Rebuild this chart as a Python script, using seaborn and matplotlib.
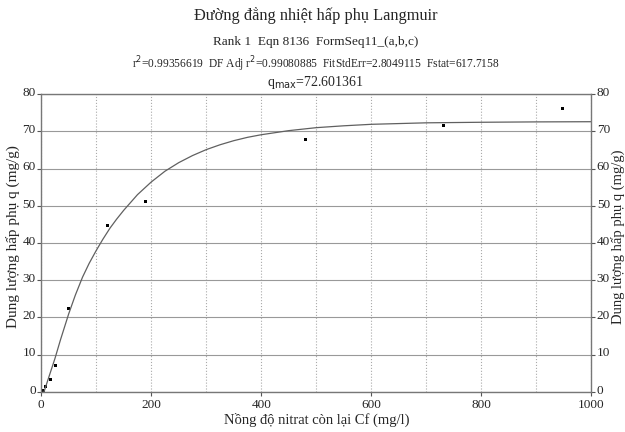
import pandas as pd
import matplotlib.pyplot as plt
import matplotlib.transforms as mtransforms
import seaborn as sns

# measured points (Cf, q)
cf_points = [2, 4.4, 8.5, 17.6, 26.7, 49, 121, 189, 480, 731, 948]
q_points = [0.3, 0.1, 1.4, 3.4, 7.1, 22.5, 44.8, 51.1, 67.8, 71.7, 76.2]

# fitted Langmuir curve
cf_curve = [5, 15, 25, 35, 50, 62, 75, 87, 100, 112, 125, 137, 150, 175, 200,
            225, 250, 275, 300, 325, 350, 375, 400, 450, 500, 550, 600, 700,
            800, 900, 1000]
q_curve = [0, 4.5, 9, 14, 21, 26, 30.8, 34.5, 38, 41, 44, 46.4, 48.8, 53,
           56.4, 59.3, 61.6, 63.5, 65.1, 66.4, 67.5, 68.4, 69.1, 70.2, 71,
           71.5, 71.9, 72.3, 72.45, 72.55, 72.6]

x_ticks = [0, 200, 400, 600, 800, 1000]
y_ticks = [0, 10, 20, 30, 40, 50, 60, 70, 80]

sns.set_style("white")
plt.rcParams['font.family'] = ['Liberation Serif', 'DejaVu Serif']

df_pts = pd.DataFrame({'Cf': cf_points, 'q': q_points})
df_fit = pd.DataFrame({'Cf': cf_curve, 'q': q_curve})

fig = plt.figure(figsize=(6.25, 4.32), dpi=100)
ax = fig.add_axes([0.066, 0.093, 0.88, 0.689])

sns.lineplot(data=df_fit, x='Cf', y='q', ax=ax, color='#606060', lw=0.9)
sns.scatterplot(data=df_pts, x='Cf', y='q', ax=ax, color='black', marker='s',
                s=5, edgecolor='none')

ax.set_xlim(0, 1000)
ax.set_ylim(0, 80)
ax.set_xticks(x_ticks)
ax.set_xticks(range(0, 1001, 100), minor=True)
ax.set_yticks(y_ticks)
ax.grid(axis='x', which='both', color='#aaaaaa', ls=':', lw=0.8)
ax.grid(axis='y', which='major', color='#999999', ls='-', lw=0.8)
ax.tick_params(axis='both', labelsize=9.5, length=3, color='#555555', pad=1)
ax.tick_params(axis='x', which='major', pad=2.5)
ax.tick_params(axis='x', which='minor', length=0)
ax.tick_params(axis='y', left=True, right=True, labelright=True)
ax.tick_params(axis='x', bottom=True)
for s in ax.spines.values():
    s.set_color('#777777')
    s.set_linewidth(1)

# y tick labels sit a little above their gridline, as in the original
lift = mtransforms.ScaledTranslation(0, 2 / 72, fig.dpi_scale_trans)
for t in ax.yaxis.get_major_ticks():
    t.label1.set_transform(t.label1.get_transform() + lift)
    t.label2.set_transform(t.label2.get_transform() + lift)

ax.set_xlabel('Nồng độ nitrat còn lại Cf (mg/l)', fontsize=10.5, labelpad=1)
ax.set_ylabel('')
y_label = 'Dung lượng hấp phụ q (mg/g)'
fig.text(0.021, 0.452, y_label, rotation=90, fontsize=11,
         ha='center', va='center')
fig.text(0.988, 0.452, y_label, rotation=90, fontsize=10.5,
         ha='center', va='center')

fig.text(0.505, 0.965, 'Đường đẳng nhiệt hấp phụ Langmuir', fontsize=11.8,
         ha='center', va='center')
fig.text(0.505, 0.902, 'Rank 1  Eqn 8136  FormSeq11_(a,b,c)', fontsize=9.5,
         ha='center', va='center')
fig.text(0.505, 0.851,
         'r$^2$=0.99356619  DF Adj r$^2$=0.99080885  FitStdErr=2.8049115  Fstat=617.7158',
         fontsize=8.3, ha='center', va='center')
fig.text(0.505, 0.81, 'q$_{\\rm max}$=72.601361', fontsize=10,
         ha='center', va='center')

fig.savefig('out.png', dpi=100)
